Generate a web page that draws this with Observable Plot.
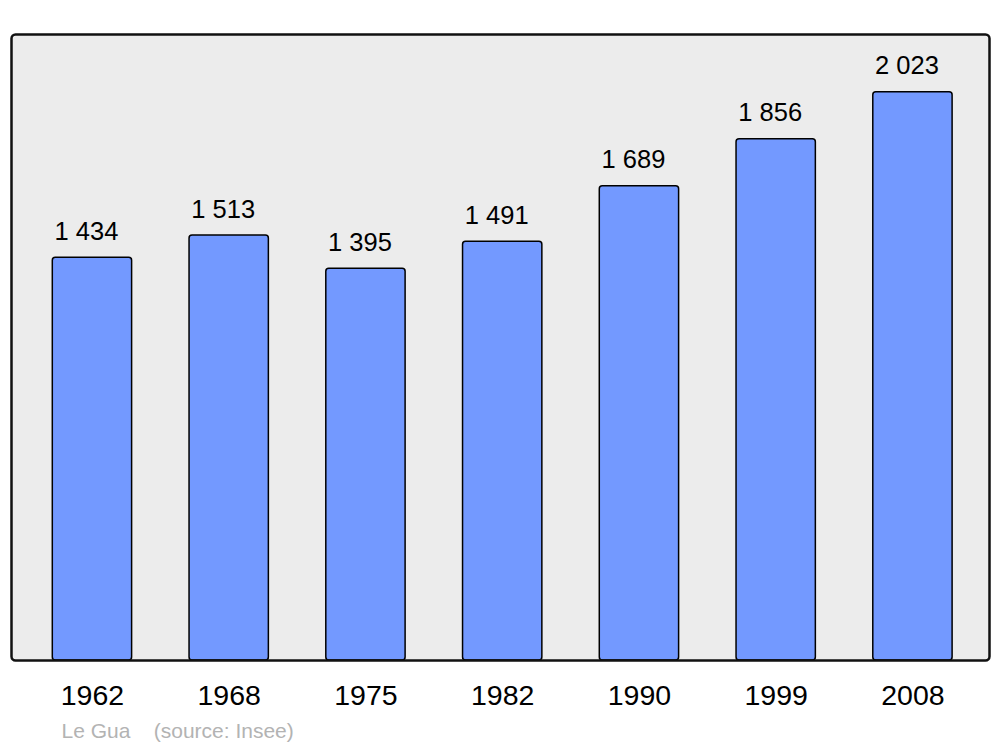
<!DOCTYPE html>
<html>
<head>
<meta charset="utf-8">
<script src="https://cdn.jsdelivr.net/npm/d3@7"></script>
<script src="https://cdn.jsdelivr.net/npm/@observablehq/plot@0.6"></script>
<style>
  html, body { margin: 0; padding: 0; background: #ffffff; }
  #chart svg { display: block; }
</style>
</head>
<body>
<div id="chart"></div>
<script>
const years = ["1962", "1968", "1975", "1982", "1990", "1999", "2008"];
const population = [1434, 1513, 1395, 1491, 1689, 1856, 2023];
const commune = "Le Gua";
const source = "(source: Insee)";

const data = years.map((y, i) => ({year: y, pop: population[i]}));
const fmt = v => d3.format(",")(v).replace(/,/g, " ");

const chart = Plot.plot({
  width: 1000,
  height: 747,
  marginTop: 34,
  marginBottom: 87,
  marginLeft: 11,
  marginRight: 11,
  style: {fontFamily: "'Liberation Sans', Arial, sans-serif", background: "#ffffff"},
  x: {domain: years, range: [11, 993.4], paddingInner: 0.42, paddingOuter: 0.302, round: false, axis: null},
  y: {domain: [0, 2229], axis: null},
  marks: [
    Plot.frame({fill: "#ececec", stroke: "none", rx: 4}),
    Plot.barY(data, {x: "year", y: "pop", fill: "#7399ff", stroke: "#000", strokeWidth: 1.5, rx: 3}),
    Plot.frame({stroke: "#111", strokeWidth: 2.5, rx: 4}),
    Plot.text(data, {x: "year", y: "pop", text: d => fmt(d.pop), lineAnchor: "bottom", dy: -18, dx: -6, fontSize: 25.5, fill: "#000"}),
    Plot.axisX({tickSize: 0, tickPadding: 24, fontSize: 28.5, color: "#000", label: null}),
    Plot.text([commune + "\u00a0\u00a0\u00a0\u00a0" + source], {frameAnchor: "bottom-left", textAnchor: "start", lineAnchor: "bottom", dx: 50, dy: 77, fontSize: 21, fill: "#b3b3b3"})
  ]
});
document.getElementById("chart").appendChild(chart);
</script>
</body>
</html>
